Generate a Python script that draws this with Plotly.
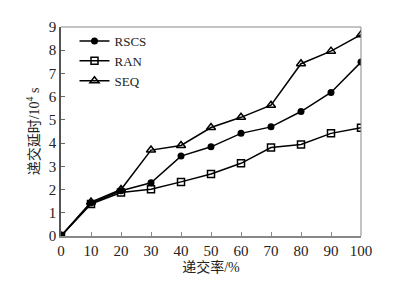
import plotly.graph_objects as go

x_vals = [0, 10, 20, 30, 40, 50, 60, 70, 80, 90, 100]
rscs = [0, 1.42, 1.95, 2.29, 3.44, 3.84, 4.42, 4.70, 5.36, 6.18, 7.49]
ran = [0, 1.38, 1.87, 2.01, 2.33, 2.67, 3.13, 3.81, 3.94, 4.42, 4.66]
seq = [0, 1.46, 2.00, 3.70, 3.90, 4.67, 5.11, 5.63, 7.42, 7.96, 8.67]
x_ticks = [0, 10, 20, 30, 40, 50, 60, 70, 80, 90, 100]
y_ticks = [0, 1, 2, 3, 4, 5, 6, 7, 8, 9]

serif = "Liberation Serif"
cjk = "Liberation Serif, Noto Sans CJK SC"

fig = go.Figure()
fig.add_trace(go.Scatter(x=x_vals, y=rscs, name="RSCS", mode="lines+markers",
                         line=dict(color="black", width=1.5),
                         marker=dict(symbol="circle", size=7, color="black")))
fig.add_trace(go.Scatter(x=x_vals, y=ran, name="RAN", mode="lines+markers",
                         line=dict(color="black", width=1.5),
                         marker=dict(symbol="square-open", size=7, color="black",
                                     line=dict(width=1.5))))
fig.add_trace(go.Scatter(x=x_vals, y=seq, name="SEQ", mode="lines+markers",
                         line=dict(color="black", width=1.5),
                         marker=dict(symbol="triangle-up-open", size=8, color="black",
                                     line=dict(width=1.5))))

fig.update_layout(
    width=395, height=276,
    margin=dict(l=53, r=42, t=11, b=47),
    paper_bgcolor="white", plot_bgcolor="white",
    font=dict(family=serif, size=15, color="#222"),
    showlegend=True,
    legend=dict(x=0.045, y=1.005, xanchor="left", yanchor="top",
                bgcolor="rgba(0,0,0,0)", font=dict(family=serif, size=13, color="#222"),
                itemwidth=30, tracegroupgap=0),
    xaxis=dict(range=[0, 100], tickvals=x_ticks, ticks="inside", ticklen=4,
               tickcolor="#888", showgrid=False, zeroline=False,
               showline=True, linecolor="#888", linewidth=2,
               title=dict(text="递交率/%", font=dict(family=cjk, size=14), standoff=4)),
    yaxis=dict(range=[0, 9], tickvals=y_ticks, ticks="inside", ticklen=4,
               tickcolor="#666", showgrid=False, zeroline=False,
               showline=True, linecolor="#555", linewidth=1.5,
               title=dict(text="递交延时/10<sup>4</sup> s", font=dict(family=cjk, size=14), standoff=6)),
    shapes=[
        dict(type="line", xref="x domain", yref="y domain", x0=0, x1=1, y0=1, y1=1,
             line=dict(color="#888", width=1)),
        dict(type="line", xref="x domain", yref="y domain", x0=1, x1=1, y0=0, y1=1,
             line=dict(color="#888", width=1)),
    ],
)

fig.write_html("out.html")
